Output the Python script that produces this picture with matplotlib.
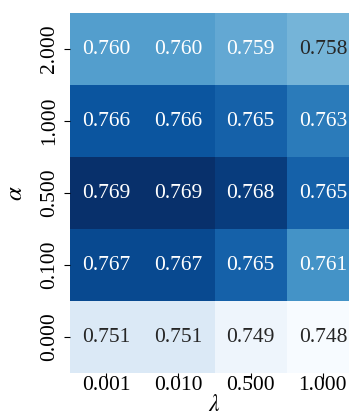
import numpy as np
import matplotlib
matplotlib.use("Agg")
import matplotlib.pyplot as plt
import seaborn as sns

# sensitivity grid: rows = alpha, columns = lambda
alpha_labels = ["2.000", "1.000", "0.500", "0.100", "0.000"]
lambda_labels = ["0.001", "0.010", "0.500", "1.000"]
row_2_000 = [0.760, 0.760, 0.759, 0.758]
row_1_000 = [0.766, 0.766, 0.765, 0.763]
row_0_500 = [0.769, 0.769, 0.768, 0.765]
row_0_100 = [0.767, 0.767, 0.765, 0.761]
row_0_000 = [0.751, 0.751, 0.749, 0.748]

scores = np.array([row_2_000, row_1_000, row_0_500, row_0_100, row_0_000])

plt.rcParams["font.family"] = ["Liberation Serif", "DejaVu Serif"]
plt.rcParams["mathtext.fontset"] = "stix"

fig = plt.figure(figsize=(3.49, 4.19), dpi=100)
ax = fig.add_axes([70 / 349, 46 / 419, 289 / 349, 360 / 419])

sns.heatmap(scores, ax=ax, cmap="Blues", vmin=0.748, vmax=0.769,
            annot=True, fmt=".3f", annot_kws={"fontsize": 15.5},
            xticklabels=lambda_labels, yticklabels=alpha_labels, cbar=False)

ax.tick_params(axis="x", length=4, pad=-2, labelsize=15.5)
ax.tick_params(axis="y", length=4, pad=4, labelsize=15.5)
plt.setp(ax.get_yticklabels(), rotation=90, va="center")
plt.setp(ax.get_xticklabels(), rotation=0)

ax.set_xlabel(r"$\lambda$", fontsize=17, labelpad=0)
ax.set_ylabel(r"$\alpha$", fontsize=18, labelpad=9)

fig.savefig("out.png", dpi=100)
